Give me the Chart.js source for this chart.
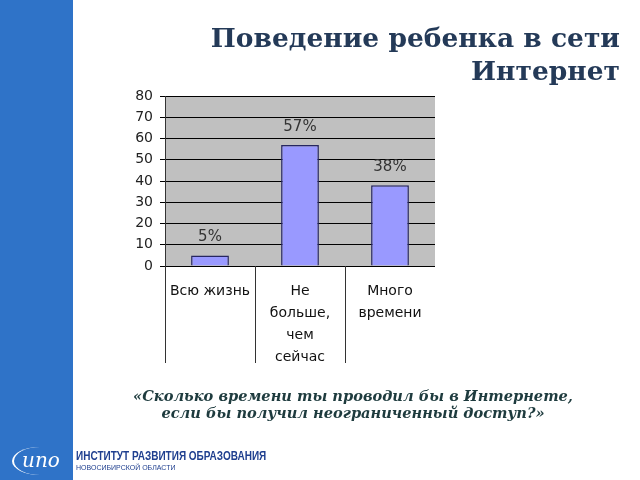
<!DOCTYPE html>
<html>
<head>
<meta charset="utf-8">
<script src="https://cdn.jsdelivr.net/npm/chart.js@4/dist/chart.umd.min.js"></script>
<style>
  html, body { margin: 0; padding: 0; background: #fff; }
  #wrap { position: relative; width: 640px; height: 480px; overflow: hidden; background: #fff; }
  #stripe { position: absolute; left: 0; top: 0; width: 73px; height: 480px; background: #2F73C8; }
  #c { position: absolute; left: 0; top: 0; }
  .title { position: absolute; right: 20px; font-family: "DejaVu Serif", serif; font-weight: bold;
           color: #243A58; font-size: 26.5px; white-space: nowrap; text-align: right; line-height: 1; }
  .sub { position: absolute; left: 353px; transform: translateX(-50%); font-family: "DejaVu Serif", serif;
         font-style: italic; font-weight: bold; color: #1E3B3E; font-size: 14.6px; white-space: nowrap; line-height: 1; }
  .inst { position: absolute; left: 76px; font-family: "Liberation Sans", Arial, sans-serif;
          font-weight: bold; color: #1F3F8F; white-space: nowrap; line-height: 1; transform-origin: 0 0; }
  .logo { position: absolute; left: 12px; top: 447px; width: 54px; height: 28px; border-left: 2px solid #fff;
          border-radius: 50%; color: #fff; font-family: "DejaVu Serif", serif; font-style: italic;
          font-size: 20px; line-height: 26px; text-align: center; }
</style>
</head>
<body>
<div id="wrap">
  <div id="stripe"></div>
  <canvas id="c" width="640" height="480"></canvas>
  <div class="title" style="top:25px;">Поведение ребенка в сети</div>
  <div class="title" style="top:58px;">Интернет</div>
  <div class="sub" style="top:389px;">«Сколько времени ты проводил бы в Интернете,</div>
  <div class="sub" style="top:406px;">если бы получил неограниченный доступ?»</div>
  <div class="logo">ипо</div>
  <div class="inst" style="top:450px; font-size:12.5px; transform: scaleX(0.8);">ИНСТИТУТ РАЗВИТИЯ ОБРАЗОВАНИЯ</div>
  <div class="inst" style="top:464px; font-size:7px; font-weight:normal;">НОВОСИБИРСКОЙ ОБЛАСТИ</div>
</div>
<script>
const categories = ["Всю жизнь", ["Не", "больше,", "чем", "сейчас"], ["Много", "времени"]];
const values = [5, 57, 38];
const valueLabels = ["5%", "57%", "38%"];
const yMin = 0, yMax = 80, yStep = 10;

const decor = {
  id: 'decor',
  beforeDraw(chart) {
    const a = chart.chartArea, ctx = chart.ctx;
    ctx.save();
    ctx.fillStyle = '#C0C0C0';
    ctx.fillRect(a.left, a.top, a.right - a.left, a.bottom - a.top);
    ctx.restore();
  },
  afterDraw(chart) {
    const ctx = chart.ctx, a = chart.chartArea, x = chart.scales.x, y = chart.scales.y;
    const half = (x.getPixelForValue(1) - x.getPixelForValue(0)) / 2;
    ctx.save();
    ctx.strokeStyle = '#333';
    ctx.lineWidth = 1;
    for (let i = 0; i < categories.length; i++) {
      const px = Math.round(x.getPixelForValue(i) - half) + 0.5;
      ctx.beginPath();
      ctx.moveTo(px, a.bottom);
      ctx.lineTo(px, a.bottom + 97);
      ctx.stroke();
    }
    ctx.fillStyle = '#333';
    ctx.font = '15px "DejaVu Sans"';
    ctx.textAlign = 'center';
    ctx.textBaseline = 'middle';
    values.forEach((v, i) => {
      ctx.fillText(valueLabels[i], x.getPixelForValue(i), y.getPixelForValue(v) - 18);
    });
    ctx.restore();
  }
};

new Chart(document.getElementById('c'), {
  type: 'bar',
  data: {
    labels: categories,
    datasets: [{
      data: values,
      backgroundColor: '#9999FF',
      borderColor: '#262660',
      borderWidth: 1.5,
      borderSkipped: 'bottom',
      barPercentage: 0.42,
      categoryPercentage: 1
    }]
  },
  options: {
    responsive: false,
    animation: false,
    devicePixelRatio: 1,
    layout: { padding: { left: 115, right: 205, top: 96, bottom: 94 } },
    plugins: { legend: { display: false }, tooltip: { enabled: false }, title: { display: false } },
    scales: {
      x: {
        grid: { display: false, drawTicks: false },
        border: { display: false },
        ticks: { color: '#111', font: { family: 'DejaVu Sans', size: 14, lineHeight: 1.55 }, padding: 15, maxRotation: 0, autoSkip: false },
        afterFit(s) { s.height = 120; }
      },
      y: {
        min: yMin, max: yMax,
        grid: { color: '#000', lineWidth: 1, drawTicks: true, tickLength: 5, tickColor: '#000' },
        border: { display: true, color: '#333', width: 1 },
        ticks: { stepSize: yStep, color: '#222', font: { family: 'DejaVu Sans', size: 14 }, padding: 7 },
        afterFit(s) { s.width = 50; }
      }
    }
  },
  plugins: [decor]
});
</script>
</body>
</html>
